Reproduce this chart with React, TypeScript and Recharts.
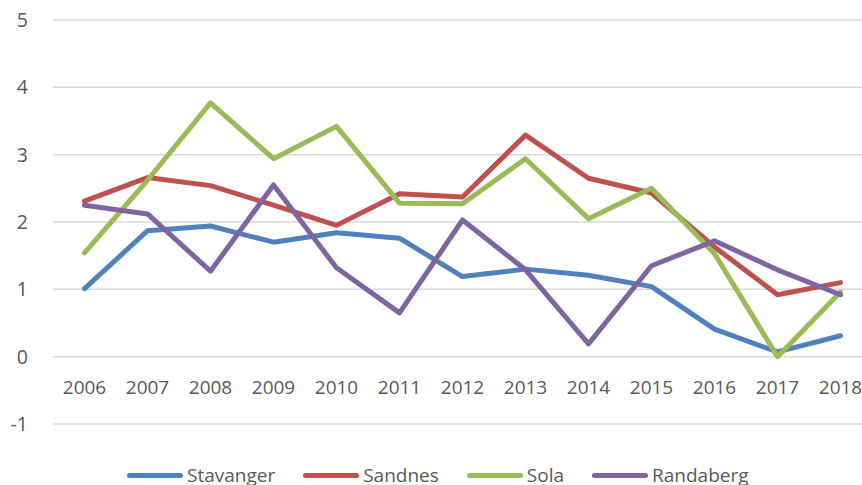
import { LineChart, Line, XAxis, YAxis, CartesianGrid } from 'recharts';

const years = ['2006', '2007', '2008', '2009', '2010', '2011', '2012', '2013', '2014', '2015', '2016', '2017', '2018'];
const stavanger = [1.01, 1.87, 1.94, 1.70, 1.84, 1.76, 1.19, 1.30, 1.21, 1.04, 0.41, 0.07, 0.31];
const sandnes = [2.31, 2.66, 2.54, 2.25, 1.95, 2.42, 2.37, 3.29, 2.65, 2.43, 1.63, 0.92, 1.10];
const sola = [1.54, 2.62, 3.77, 2.94, 3.42, 2.28, 2.27, 2.94, 2.05, 2.50, 1.53, 0.0, 0.96];
const randaberg = [2.25, 2.12, 1.27, 2.55, 1.32, 0.65, 2.03, 1.29, 0.19, 1.35, 1.72, 1.29, 0.92];
const yTicks = [-1, 0, 1, 2, 3, 4, 5];

const series = [
  { key: 'Stavanger', color: '#4F81BD' },
  { key: 'Sandnes', color: '#C0504D' },
  { key: 'Sola', color: '#9BBB59' },
  { key: 'Randaberg', color: '#8064A2' },
];

const data = years.map((year, i) => ({
  year,
  Stavanger: stavanger[i],
  Sandnes: sandnes[i],
  Sola: sola[i],
  Randaberg: randaberg[i],
}));

const FONT = '"Open Sans", sans-serif';
const TEXT = '#595959';

// category labels sit just under the zero line, like Excel's axis crossing
const YearTick = ({ x, y, payload }: any) => (
  <text x={x} y={y - 38} textAnchor="middle" fill={TEXT} fontSize={19} fontFamily={FONT}>
    {payload.value}
  </text>
);

export default function App() {
  return (
    <div style={{ position: 'fixed', left: 0, top: 0, width: 862, height: 485, overflow: 'hidden', background: '#fff' }}>
      <LineChart width={880} height={485} data={data} margin={{ top: 20, right: 8, bottom: 31, left: 0 }}>
        <CartesianGrid vertical={false} stroke="#d9d9d9" strokeWidth={1.5} />
        <XAxis
          dataKey="year"
          height={30}
          axisLine={false}
          tickLine={false}
          padding={{ left: 31.5, right: 31.5 }}
          tick={<YearTick />}
          interval={0}
        />
        <YAxis
          width={53}
          domain={[-1, 5]}
          ticks={yTicks}
          axisLine={false}
          tickLine={false}
          tickMargin={19}
          tick={{ fill: TEXT, fontSize: 19.5, fontFamily: FONT }}
        />
        {series.map(s => (
          <Line
            key={s.key}
            dataKey={s.key}
            stroke={s.color}
            strokeWidth={5}
            strokeLinecap="round"
            strokeLinejoin="round"
            dot={false}
            isAnimationActive={false}
          />
        ))}
      </LineChart>
      <div style={{ position: 'absolute', left: 127, top: 462, display: 'flex', alignItems: 'center', gap: 28, fontFamily: FONT, fontSize: 19, color: TEXT, whiteSpace: 'nowrap' }}>
        {series.map(s => (
          <div key={s.key} style={{ display: 'flex', alignItems: 'center' }}>
            <span style={{ display: 'inline-block', width: 56, height: 5, borderRadius: 3, background: s.color, marginRight: 4 }} />
            <span>{s.key}</span>
          </div>
        ))}
      </div>
    </div>
  );
}
